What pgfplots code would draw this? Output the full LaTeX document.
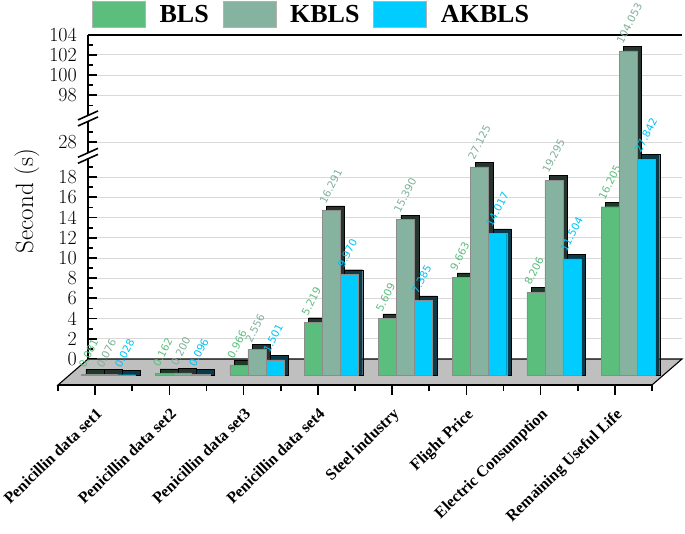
\documentclass[border=0pt]{standalone}
\usepackage{pgfplots}
\pgfplotsset{compat=1.18}
\usepackage{pgfplotstable}
\usepackage{fontspec}
\newfontfamily\tnr{Liberation Serif}
\newfontfamily\vsans{DejaVu Sans}
\definecolor{cBLS}{HTML}{5CBE7D}
\definecolor{cKBLS}{HTML}{86B3A0}
\definecolor{cAKBLS}{HTML}{00CCFF}
\definecolor{dBLS}{HTML}{1E3A28}
\definecolor{dKBLS}{HTML}{27332E}
\definecolor{dAKBLS}{HTML}{0B3B4B}
\definecolor{lBLS}{HTML}{5CBE7D}
\definecolor{lKBLS}{HTML}{7FB09A}
\definecolor{lAKBLS}{HTML}{00C4F4}
\definecolor{floorgray}{HTML}{BFBFBF}

% x: category index, y: drawn bar height (broken-axis units), label: printed value
\pgfplotstableread{
x y label
0 0.081 0.081
1 0.162 0.162
2 0.966 0.966
3 5.219 5.219
4 5.609 5.609
5 9.663 9.663
6 8.206 8.206
7 16.66 16.205
}\blsdata
\pgfplotstableread{
x y label
0 0.076 0.076
1 0.200 0.200
2 2.556 2.556
3 16.291 16.291
4 15.390 15.390
5 20.60 27.125
6 19.295 19.295
7 32.10 104.053
}\kblsdata
\pgfplotstableread{
x y label
0 0.028 0.028
1 0.096 0.096
2 1.501 1.501
3 9.970 9.970
4 7.385 7.385
5 14.017 14.017
6 11.504 11.504
7 21.36 27.842
}\akblsdata

\pgfplotsset{
  vlabel/.style={nodes near coords={\rlap{\pgfplotspointmeta}}, point meta=explicit symbolic,
    every node near coord/.append style={font=\vsans\fontsize{10.5}{10.5}\selectfont,
      text=#1, inner sep=0pt, xshift=-5pt, yshift=6pt, rotate=63}},
  front/.style={ybar, bar width=0.243, bar shift=0pt, fill=#1, draw=black!45, line width=0.4pt, forget plot},
  shadow/.style={ybar, bar width=0.243, bar shift=0pt, fill=#1, draw=black, line width=0.4pt, forget plot},
}

\begin{document}
\begin{tikzpicture}
\begin{axis}[name=main, at={(0,0)}, anchor=south west,
  scale only axis, width=594pt, height=340.3pt,
  xmin=-0.5, xmax=7.5, ymin=0, ymax=33.69, clip=false,
  axis x line*=top, axis y line*=left, xtick=\empty,
  axis line style={line width=2pt},
  ytick={1.584,3.584,5.584,7.584,9.584,11.584,13.584,15.584,17.584,19.584,23.07,27.69,29.69,31.69,33.69},
  yticklabels={0,2,4,6,8,10,12,14,16,18,28,98,100,102,104},
  minor ytick={2.584,4.584,6.584,8.584,10.584,12.584,14.584,16.584,18.584,20.584,24.07,26.69,28.69,30.69,32.69},
  tick align=inside, major tick length=9pt, minor tick length=5pt,
  every tick/.style={black, line width=1.8pt},
  ymajorgrids, grid style={black!15, line width=0.9pt},
  yticklabel style={font=\fontsize{20}{20}\selectfont, inner sep=0pt, xshift=-11pt},
  ylabel={Second (s)},
  every axis y label/.style={at={(axis description cs:-0.1027,0.5113)}, rotate=90, anchor=center, font=\fontsize{25}{25}\selectfont},
  legend image code/.code={\draw[#1] (0pt,-13pt) rectangle (53pt,13pt);},
  legend columns=3, legend cell align=left,
  legend style={draw=none, fill=none, inner sep=0pt, at={(axis description cs:0.0067,1.0594)}, anchor=west,
    font=\tnr\bfseries\fontsize{26}{26}\selectfont, column sep=14pt, nodes={inner sep=0pt}},
]
% floor
\addplot[fill=floorgray, draw=black, line width=1.1pt, forget plot] coordinates {(-0.5,1.584) (7.5,1.584) (7.096,-0.99) (-0.904,-0.99)} -- cycle;
% depth faces
\addplot[shadow=dBLS] table[x expr=\thisrow{x}-0.468+0.0606, y expr=\thisrow{y}+0.45] {\blsdata};
\addplot[shadow=dKBLS] table[x expr=\thisrow{x}-0.225+0.0606, y expr=\thisrow{y}+0.45] {\kblsdata};
\addplot[shadow=dAKBLS] table[x expr=\thisrow{x}+0.018+0.0606, y expr=\thisrow{y}+0.45] {\akblsdata};
% front faces with values
\addplot[front=cBLS, vlabel=lBLS] table[x expr=\thisrow{x}-0.468, y=y, meta=label] {\blsdata};
\addplot[front=cKBLS, vlabel=lKBLS] table[x expr=\thisrow{x}-0.225, y=y, meta=label] {\kblsdata};
\addplot[front=cAKBLS, vlabel=lAKBLS] table[x expr=\thisrow{x}+0.018, y=y, meta=label] {\akblsdata};
% legend
\addlegendimage{fill=cBLS, draw=black!30}
\addlegendentry{BLS}
\addlegendimage{fill=cKBLS, draw=black!30}
\addlegendentry{KBLS}
\addlegendimage{fill=cAKBLS, draw=black!30}
\addlegendentry{AKBLS}
% axis breaks
\fill[white] ([xshift=-2pt,yshift=-2.6pt]axis cs:-0.5,25.4) rectangle ([xshift=2pt,yshift=2.6pt]axis cs:-0.5,25.4);
\draw[line width=1.6pt] ([xshift=-10pt,yshift=-7.5pt]axis cs:-0.5,25.4) -- ([xshift=10pt,yshift=1.5pt]axis cs:-0.5,25.4);
\draw[line width=1.6pt] ([xshift=-10pt,yshift=-1.5pt]axis cs:-0.5,25.4) -- ([xshift=10pt,yshift=7.5pt]axis cs:-0.5,25.4);
\fill[white] ([xshift=-2pt,yshift=-2.6pt]axis cs:-0.5,21.7) rectangle ([xshift=2pt,yshift=2.6pt]axis cs:-0.5,21.7);
\draw[line width=1.6pt] ([xshift=-10pt,yshift=-7.5pt]axis cs:-0.5,21.7) -- ([xshift=10pt,yshift=1.5pt]axis cs:-0.5,21.7);
\draw[line width=1.6pt] ([xshift=-10pt,yshift=-1.5pt]axis cs:-0.5,21.7) -- ([xshift=10pt,yshift=7.5pt]axis cs:-0.5,21.7);
\end{axis}
\coordinate (fl) at ([xshift=-30pt,yshift=-10pt]main.south west);
\begin{axis}[at={(fl)}, anchor=south west,
  scale only axis, width=594pt, height=10pt,
  xmin=-0.5, xmax=7.5, ymin=0, ymax=1,
  axis y line=none, axis x line*=bottom, axis line style={line width=2pt},
  xtick={0,1,2,3,4,5,6,7},
  xticklabels={Penicillin data set1,Penicillin data set2,Penicillin data set3,Penicillin data set4,Steel industry,Flight Price,Electric Consumption,Remaining Useful Life},
  minor xtick={-0.5,0.5,1.5,2.5,3.5,4.5,5.5,6.5,7.5},
  tick align=outside, major tick length=10pt, minor tick length=6pt,
  every tick/.style={black, line width=1.6pt},
  xticklabel style={yshift=-12pt, rotate=44, anchor=north east, inner sep=0pt, font=\tnr\bfseries\fontsize{16}{16}\selectfont},
]
\addplot[draw=none, forget plot] coordinates {(0,0.5)};
\end{axis}
\pgfresetboundingbox
\path[use as bounding box] ([xshift=-88pt,yshift=-158pt]main.south west) rectangle ([xshift=597pt,yshift=375pt]main.south west);
\end{tikzpicture}
\end{document}
